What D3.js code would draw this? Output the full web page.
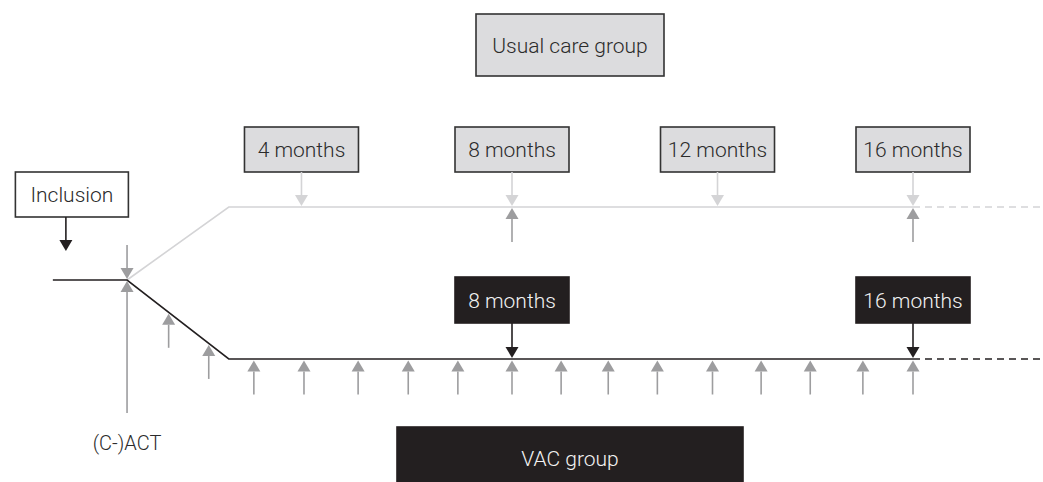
<!DOCTYPE html>
<html lang="en">
  <head>
    <meta charset="utf-8" />
    <style>
      html,
      body {
        margin: 0;
        background: #fff;
      }

      svg {
        display: block;
        font-family: Roboto, 'Open Sans', sans-serif;
        font-weight: 300;
      }
    </style>
    <script src="https://d3js.org/d3.v7.min.js"></script>
  </head>
  <body>
    <svg width="1043" height="482"></svg>

    <script>
      // positions along the time axis, in months
      var inclusionAt = -0.9,
        startAt = -1.16,
        actAt = 0.32,
        vacReachedAt = 2.35,
        lastVisitAt = 16,
        endAt = 18.55;

      var usualLabels = ['4 months', '8 months', '12 months', '16 months'],
        usualVisitAt = [3.8, 8, 12.1, 16],
        usualUpAt = [8, 16];

      var vacLabels = ['8 months', '16 months'],
        vacVisitAt = [8, 16];

      var vacUpAt = [1.15, 1.95, 2.85, 3.85, 4.93, 5.93, 6.92, 8, 8.98, 9.92,
        10.9, 12, 12.97, 13.95, 15, 16];

      var svg = d3.select('svg'),
        ink = '#231f20',
        mid = '#9d9d9f',
        light = '#d4d4d6',
        boxGrey = '#dcdcde',
        arrowLen = 34;

      var x = d3.scaleLinear().domain([8, 16]).range([512, 913]);
      var y = d3.scaleOrdinal()
        .domain(['usual', 'baseline', 'vac'])
        .range([207, 280, 359]);

      // y of the treatment line at a given month (slope during (C-)ACT)
      function vacY(m) {
        if (m <= actAt) return y('baseline');
        if (m >= vacReachedAt) return y('vac');
        return y('baseline') + (m - actAt) / (vacReachedAt - actAt) * (y('vac') - y('baseline'));
      }

      var line = d3.line()
        .x(function(d) { return x(d[0]); })
        .y(function(d) { return y(d[1]); });

      function arrow(g, cx, tipY, len, dir, color) {
        // dir: 1 = pointing down, -1 = pointing up
        var head = 11, half = 6.5;
        g.append('line')
          .attr('x1', cx).attr('x2', cx)
          .attr('y1', tipY - dir * len)
          .attr('y2', tipY - dir * head)
          .attr('stroke', color)
          .attr('stroke-width', 1.6);
        g.append('path')
          .attr('d', 'M' + (cx - half) + ',' + (tipY - dir * head) +
            'L' + (cx + half) + ',' + (tipY - dir * head) +
            'L' + cx + ',' + tipY + 'Z')
          .attr('fill', color);
      }

      function box(g, cx, top, w, h, label, fill, stroke, textColor) {
        g.append('rect')
          .attr('x', cx - w / 2).attr('y', top)
          .attr('width', w).attr('height', h)
          .attr('fill', fill)
          .attr('stroke', stroke)
          .attr('stroke-width', 1.6);
        g.append('text')
          .attr('x', cx).attr('y', top + h / 2)
          .attr('dy', '0.36em')
          .attr('text-anchor', 'middle')
          .attr('font-size', 21)
          .attr('fill', textColor)
          .text(label);
      }

      var g = svg.append('g');

      // usual care branch
      g.append('path')
        .attr('d', line([[actAt, 'baseline'], [vacReachedAt, 'usual'], [lastVisitAt, 'usual']]))
        .attr('fill', 'none').attr('stroke', light).attr('stroke-width', 1.6);
      g.append('path')
        .attr('d', line([[lastVisitAt, 'usual'], [endAt, 'usual']]))
        .attr('fill', 'none').attr('stroke', light).attr('stroke-width', 1.6)
        .attr('stroke-dasharray', '7,5');

      // treatment / VAC branch
      g.append('path')
        .attr('d', line([[startAt, 'baseline'], [actAt, 'baseline'], [vacReachedAt, 'vac'], [lastVisitAt, 'vac']]))
        .attr('fill', 'none').attr('stroke', ink).attr('stroke-width', 1.6);
      g.append('path')
        .attr('d', line([[lastVisitAt, 'vac'], [endAt, 'vac']]))
        .attr('fill', 'none').attr('stroke', ink).attr('stroke-width', 1.6)
        .attr('stroke-dasharray', '7,5');

      // inclusion
      box(g, x(inclusionAt) + 6, 172, 113, 45, 'Inclusion', '#fff', '#333', '#2b2b2b');
      arrow(g, x(inclusionAt), 251, arrowLen, 1, ink);

      // (C-)ACT
      arrow(g, x(actAt), y('baseline') - 1, arrowLen, 1, mid);
      arrow(g, x(actAt), y('baseline') + 1, 132, -1, mid);
      g.append('text')
        .attr('x', x(actAt)).attr('y', 450)
        .attr('text-anchor', 'middle')
        .attr('font-size', 20)
        .attr('fill', '#2b2b2b')
        .text('(C-)ACT');

      // usual care visits
      box(g, 570, 14, 188, 62, 'Usual care group', boxGrey, '#333', '#2b2b2b');
      usualLabels.forEach(function(label, i) {
        var cx = x(usualVisitAt[i]);
        box(g, cx, 127, 114, 45, label, boxGrey, '#333', '#2b2b2b');
        arrow(g, cx, y('usual') - 1, arrowLen, 1, light);
      });
      usualUpAt.forEach(function(m) {
        arrow(g, x(m), y('usual') + 1, arrowLen, -1, mid);
      });

      // VAC visits
      vacUpAt.forEach(function(m) {
        arrow(g, x(m), vacY(m) + 1.5, arrowLen, -1, mid);
      });
      vacLabels.forEach(function(label, i) {
        var cx = x(vacVisitAt[i]);
        box(g, cx, 277, 114, 46, label, ink, ink, '#f2f2f2');
        arrow(g, cx, y('vac') - 1, 35, 1, ink);
      });

      box(g, 570, 427, 346, 62, 'VAC group', ink, ink, '#f2f2f2');
    </script>
  </body>
</html>
